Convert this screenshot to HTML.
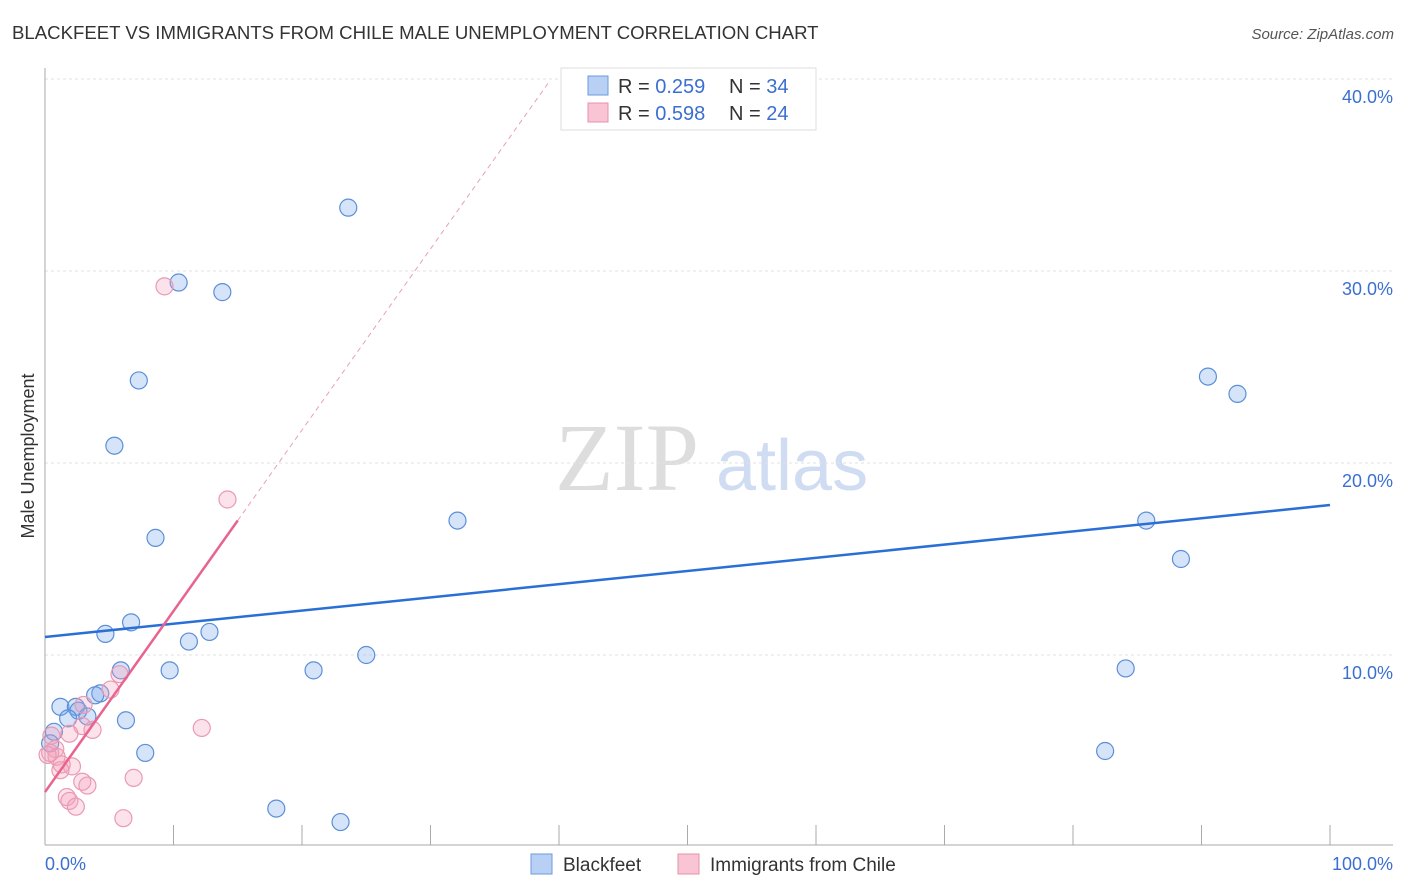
<!DOCTYPE html>
<html><head><meta charset="utf-8"><style>
body{margin:0;background:#fff;font-family:"Liberation Sans",sans-serif}
svg{display:block}
</style></head><body>
<svg id="chart" width="1406" height="892">
<text x="12" y="39" font-size="18.6" fill="#333">BLACKFEET VS IMMIGRANTS FROM CHILE MALE UNEMPLOYMENT CORRELATION CHART</text>
<text x="1394" y="39" font-size="15" fill="#555" font-style="italic" text-anchor="end">Source: ZipAtlas.com</text>
<text x="34" y="456" font-size="18" fill="#333" text-anchor="middle" transform="rotate(-90 34 456)">Male Unemployment</text>
<text x="555" y="490" font-size="96" fill="#ddd" font-family="Liberation Serif,serif">ZIP</text>
<text x="716" y="490" font-size="72" fill="#cfdcf2">atlas</text>
<g id="grid"></g><g id="marks"></g>
<g>
<rect x="561" y="68" width="255" height="62" fill="#fff" stroke="#ddd"/>
<rect x="588" y="76" width="20" height="19" fill="#b9d0f5" stroke="#6a9ae0"/>
<rect x="588" y="103" width="20" height="19" fill="#f9c4d4" stroke="#e890aa"/>
<text x="618" y="93" font-size="20" fill="#333">R = <tspan fill="#3b6fd0">0.259</tspan></text>
<text x="729" y="93" font-size="20" fill="#333">N = <tspan fill="#3b6fd0">34</tspan></text>
<text x="618" y="120" font-size="20" fill="#333">R = <tspan fill="#3b6fd0">0.598</tspan></text>
<text x="729" y="120" font-size="20" fill="#333">N = <tspan fill="#3b6fd0">24</tspan></text>
</g>
<g>
<rect x="531" y="854" width="21" height="20" fill="#b9d0f5" stroke="#6a9ae0"/>
<text x="563" y="871" font-size="19" fill="#333">Blackfeet</text>
<rect x="678" y="854" width="21" height="20" fill="#f9c4d4" stroke="#e890aa"/>
<text x="710" y="871" font-size="19" fill="#333">Immigrants from Chile</text>
</g>
<text x="45" y="870" font-size="18" fill="#3b6fd0">0.0%</text>
<text x="1393" y="870" font-size="18" fill="#3b6fd0" text-anchor="end">100.0%</text>
</svg>
<script>
const yTicks=[10,20,30,40];
const yTickLabels=["10.0%","20.0%","30.0%","40.0%"];
const xTicks=[0,10,20,30,40,50,60,70,80,90,100];
const blueX=[23.6,10.4,13.8,7.3,5.4,8.6,32.1,6.7,4.7,12.8,11.2,9.7,20.9,25.0,5.9,4.3,3.9,1.2,2.4,2.6,3.3,1.8,6.3,0.7,0.4,7.8,18.0,23.0,90.5,92.8,85.7,88.4,84.1,82.5];
const blueY=[33.3,29.4,28.9,24.3,20.9,16.1,17.0,11.7,11.1,11.2,10.7,9.2,9.2,10.0,9.2,8.0,7.9,7.3,7.3,7.1,6.8,6.7,6.6,6.0,5.4,4.9,2.0,1.3,24.5,23.6,17.0,15.0,9.3,5.0];
const pinkX=[9.3,14.2,5.8,5.1,3.0,2.9,3.7,1.9,12.2,0.5,0.8,0.9,1.3,2.1,1.2,2.9,3.3,6.9,1.7,1.9,2.4,6.1,0.4,0.2];
const pinkY=[29.2,18.1,9.0,8.2,7.4,6.3,6.1,5.9,6.2,5.8,5.1,4.7,4.3,4.2,4.0,3.4,3.2,3.6,2.6,2.4,2.1,1.5,4.9,4.8];
const blueLine=[10.94,17.81];
const pinkLine=[2.86,0.943];
const X=v=>45+v*12.85, Y=v=>847-v*19.2;
const NS="http://www.w3.org/2000/svg";
const g=document.getElementById('grid'),m=document.getElementById('marks');
function mk(p,tag,a){const e=document.createElementNS(NS,tag);for(const k in a)e.setAttribute(k,a[k]);p.appendChild(e);return e;}
yTicks.forEach((t,i)=>{
 const l=mk(g,'line',{x1:45,x2:1393,y1:Y(t),y2:Y(t),stroke:'#e2e2e2','stroke-dasharray':'3,3'});
 
 
 const tx=mk(g,'text',{x:1393,y:Y(t)+24,'font-size':18,fill:'#3b6fd0','text-anchor':'end'});
 tx.textContent=yTickLabels[i];
 
 
});
mk(g,'line',{x1:45,x2:45,y1:68,y2:845,stroke:'#aaa'});
mk(g,'line',{x1:45,x2:1393,y1:845,y2:845,stroke:'#aaa'});
xTicks.forEach(t=>{
 const l=mk(g,'line',{x1:X(t),x2:X(t),y1:825,y2:845,stroke:'#aaa'});
 
 
});
blueX.forEach((x,i)=>{
 const c=mk(m,'circle',{cx:X(x),cy:Y(blueY[i]),r:8.5,fill:'rgba(120,165,235,0.3)',stroke:'#5b8fd8','stroke-width':1.2});
 
 
});
pinkX.forEach((x,i)=>{
 const c=mk(m,'circle',{cx:X(x),cy:Y(pinkY[i]),r:8.5,fill:'rgba(245,160,190,0.3)',stroke:'#e99ab2','stroke-width':1.2});
 
 
});
const bl=mk(m,'line',{x1:X(0),y1:Y(blueLine[0]),x2:X(100),y2:Y(blueLine[1]),stroke:'#2a6fd6','stroke-width':2.5});


const pl=mk(m,'line',{x1:X(0),y1:Y(pinkLine[0]),x2:X(15),y2:Y(pinkLine[0]+pinkLine[1]*15),stroke:'#e8648e','stroke-width':2.5});


const pd=mk(m,'line',{x1:X(15),y1:Y(pinkLine[0]+pinkLine[1]*15),x2:X(39.3),y2:Y(pinkLine[0]+pinkLine[1]*39.3),stroke:'#e8a0b6','stroke-width':1,'stroke-dasharray':'5,4'});


</script>
</body></html>
